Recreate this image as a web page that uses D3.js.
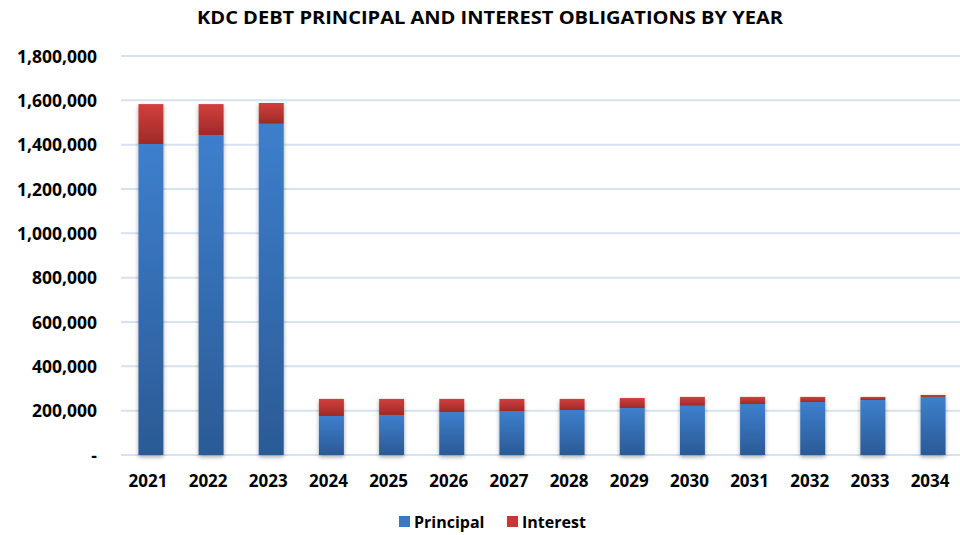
<!DOCTYPE html>
<html><head><meta charset="utf-8">
<script src="https://cdn.jsdelivr.net/npm/d3@7"></script>
<style>body{margin:0;background:#fff}svg{display:block}</style>
</head><body>
<svg id="c" width="960" height="535"></svg>
<script>
const years = ["2021","2022","2023","2024","2025","2026","2027","2028","2029","2030","2031","2032","2033","2034"];
const principal = [1403000,1443000,1494000,176000,180000,194000,198000,203000,212000,222000,230000,239000,248000,262000];
const interest  = [180000,140000,94000,77000,73000,59000,55000,50000,45000,40000,32000,23000,14000,9000];
const yTicks = [0,200000,400000,600000,800000,1000000,1200000,1400000,1600000,1800000];
const seriesNames = ["Principal","Interest"];

const svg = d3.select("#c");
const FONT = "'Open Sans', 'Liberation Sans', sans-serif";
const x = d3.scaleBand().domain(years).range([121,963]).paddingInner(0.585).paddingOuter(0.29);
const y = d3.scaleLinear().domain([0,1800000]).range([455,56]);

const defs = svg.append("defs");
function grad(id, c1, c2){
  const g = defs.append("linearGradient").attr("id",id).attr("x1",0).attr("y1",0).attr("x2",0).attr("y2",1);
  g.append("stop").attr("offset","0%").attr("stop-color",c1);
  g.append("stop").attr("offset","100%").attr("stop-color",c2);
}
grad("gB","#3d7fcd","#2b5a95");
grad("gR","#d23f3d","#9e2a28");
const f = defs.append("filter").attr("id","sh").attr("x","-50%").attr("y","-10%").attr("width","200%").attr("height","130%");
f.append("feGaussianBlur").attr("in","SourceAlpha").attr("stdDeviation",2.2);
f.append("feOffset").attr("dx",0).attr("dy",1.5).attr("result","b");
f.append("feComponentTransfer").append("feFuncA").attr("type","linear").attr("slope",0.35);
const m = f.append("feMerge"); m.append("feMergeNode"); m.append("feMergeNode").attr("in","SourceGraphic");

// title
svg.append("text").attr("x",490).attr("y",24).attr("text-anchor","middle")
  .attr("font-family",FONT).attr("font-weight","bold").attr("font-size",18).attr("fill","#000")
  .attr("textLength",586).attr("lengthAdjust","spacingAndGlyphs")
  .text("KDC DEBT PRINCIPAL AND INTEREST OBLIGATIONS BY YEAR");

// grid
svg.append("g").selectAll("line").data(yTicks).join("line")
  .attr("x1",121).attr("x2",960).attr("y1",d=>y(d)).attr("y2",d=>y(d))
  .attr("stroke","#d5e2f1").attr("stroke-width",2);

// y axis
const yAxis = d3.axisLeft(y).tickValues(yTicks).tickSize(0).tickPadding(0)
  .tickFormat(d=> d===0 ? "-" : d3.format(",")(d));
const ga = svg.append("g").attr("transform","translate(97,0)").call(yAxis);
ga.select(".domain").remove();
ga.selectAll("text").attr("font-family",FONT).attr("font-weight","bold").attr("font-size",17.5).attr("fill","#000").attr("dy","0.35em");

// x axis
const xAxis = d3.axisBottom(x).tickSize(0).tickPadding(0);
const gx = svg.append("g").attr("transform","translate(-3,477)").call(xAxis);
gx.select(".domain").remove();
gx.selectAll("text").attr("font-family",FONT).attr("font-weight","bold").attr("font-size",17).attr("fill","#000").attr("dy","0.6em");

// bars
const stackData = years.map((yr,i)=>({year:yr, Principal:principal[i], Interest:interest[i]}));
const stack = d3.stack().keys(seriesNames)(stackData);
const fills = {Principal:"url(#gB)", Interest:"url(#gR)"};
const barsG = svg.append("g").attr("filter","url(#sh)");
stack.forEach(s=>{
  barsG.append("g").selectAll("rect").data(s).join("rect")
    .attr("x",d=>x(d.data.year)).attr("width",x.bandwidth())
    .attr("y",d=>y(d[1])).attr("height",d=>y(d[0])-y(d[1]))
    .attr("fill",fills[s.key]);
});

// legend
const leg = svg.append("g");
const legItems = [{k:"Principal",c:"#3a78c4",x:399},{k:"Interest",c:"#c63735",x:507}];
legItems.forEach(it=>{
  leg.append("rect").attr("x",it.x).attr("y",516).attr("width",11).attr("height",11).attr("fill",it.c);
  leg.append("text").attr("x",it.x+15).attr("y",528).attr("font-family",FONT).attr("font-weight","bold")
    .attr("font-size",16).attr("fill","#000").text(it.k);
});
</script>
</body></html>
